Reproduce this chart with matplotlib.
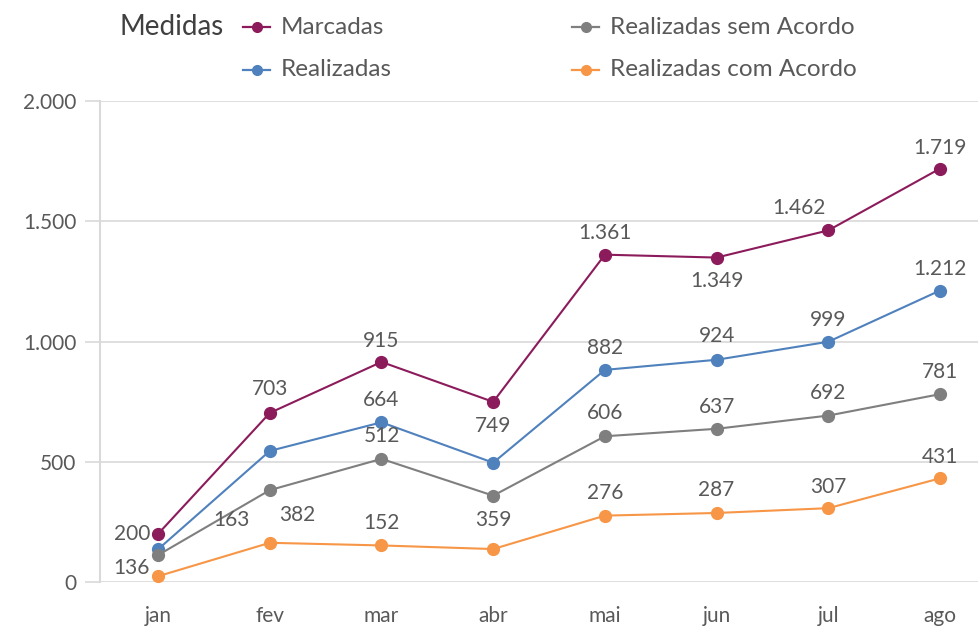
import matplotlib
matplotlib.use("Agg")
import matplotlib.pyplot as plt
from matplotlib.lines import Line2D

plt.rcParams['font.family'] = ['Lato', 'DejaVu Sans']

# dados
meses = ["jan", "fev", "mar", "abr", "mai", "jun", "jul", "ago"]
marcadas = [200, 703, 915, 749, 1361, 1349, 1462, 1719]
realizadas = [136, 545, 664, 496, 882, 924, 999, 1212]
sem_acordo = [112, 382, 512, 359, 606, 637, 692, 781]
com_acordo = [24, 163, 152, 137, 276, 287, 307, 431]
yticks = [0, 500, 1000, 1500, 2000]

TXT = "#595959"
GRID = "#D9D9D9"

series = [
    ("Marcadas", marcadas, "#8C1B5B"),
    ("Realizadas", realizadas, "#4F81BD"),
    ("Realizadas sem Acordo", sem_acordo, "#7F7F7F"),
    ("Realizadas com Acordo", com_acordo, "#F79646"),
]

# posição dos rótulos (dx, dy em pixels, alinhamento); None = sem rótulo
rotulos = {
    "Marcadas": [(-8, 0, "right"), (0, 24, "center"), (0, 21, "center"), (0, -24, "center"),
                 (0, 22, "center"), (0, -23, "center"), (-29, 22, "center"), (0, 21, "center")],
    "Realizadas": [(-8, -19, "right"), None, (0, 22, "center"), None,
                   (0, 22, "center"), (0, 24, "center"), (0, 22, "center"), (0, 22, "center")],
    "Realizadas sem Acordo": [None, (27, -25, "center"), (0, 23, "center"), (0, -24, "center"),
                              (0, 23, "center"), (0, 22, "center"), (0, 23, "center"), (0, 22, "center")],
    "Realizadas com Acordo": [None, (-38, 23, "center"), (0, 22, "center"), None,
                              (0, 23, "center"), (0, 23, "center"), (0, 21, "center"), (0, 21, "center")],
}


def fmt(v):
    return f"{v:,}".replace(",", ".")


W, H = 979, 629
fig = plt.figure(figsize=(W / 100, H / 100), dpi=100)
ax = fig.add_axes([100 / W, (H - 582) / H, 878 / W, 481 / H])

x = list(range(len(meses)))
for nome, vals, cor in series:
    ax.plot(x, vals, color=cor, lw=1.5, marker="o", ms=8.5, clip_on=False, zorder=3)
    for i, v in enumerate(vals):
        pos = rotulos[nome][i]
        if pos is None:
            continue
        dx, dy, ha = pos
        ax.annotate(fmt(v), (i, v), xytext=(dx, dy), textcoords="offset pixels",
                    ha=ha, va="center", fontsize=15, color=TXT, zorder=4)

ax.set_xlim(-0.52, 7.34)
ax.set_ylim(0, 2000)
ax.set_xticks(x)
ax.set_xticklabels(meses)
ax.set_yticks(yticks)
ax.set_yticklabels([fmt(v) for v in yticks])
ax.tick_params(axis="x", length=0, pad=17, labelsize=15, labelcolor=TXT)
ax.tick_params(axis="y", length=11, width=1.2, color=GRID, pad=6, labelsize=15, labelcolor=TXT)
ax.grid(axis="y", color=GRID, lw=1.2)
ax.set_axisbelow(True)
for s in ["top", "right", "bottom"]:
    ax.spines[s].set_visible(False)
ax.spines["left"].set_color(GRID)
ax.spines["left"].set_linewidth(1.5)

# legenda manual
fig.text(120 / W, 1 - 27 / H, "Medidas", fontsize=20, color="#404040", ha="left", va="center")
leg_pos = [(243, 27), (243, 70), (572, 27), (572, 70)]
for (nome, vals, cor), (lx, ly) in zip(series, leg_pos):
    yy = 1 - ly / H
    fig.add_artist(Line2D([lx / W, (lx + 27) / W], [yy, yy], color=cor, lw=1.6,
                          transform=fig.transFigure))
    fig.add_artist(Line2D([(lx + 13.5) / W], [yy], color=cor, marker="o", ms=7,
                          transform=fig.transFigure))
    fig.text((lx + 38) / W, yy, nome, fontsize=17.5, color=TXT, ha="left", va="center")

fig.savefig("out.png", dpi=100)
